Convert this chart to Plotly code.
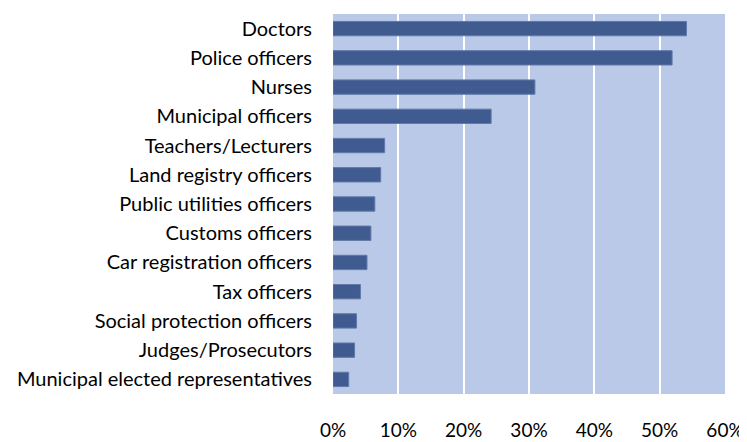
import plotly.graph_objects as go

categories = ["Doctors", "Police officers", "Nurses", "Municipal officers",
              "Teachers/Lecturers", "Land registry officers", "Public utilities officers",
              "Customs officers", "Car registration officers", "Tax officers",
              "Social protection officers", "Judges/Prosecutors",
              "Municipal elected representatives"]
values = [54.1, 51.9, 30.9, 24.2, 7.9, 7.3, 6.4, 5.8, 5.2, 4.2, 3.6, 3.3, 2.4]
tick_vals = [0, 10, 20, 30, 40, 50, 60]
tick_text = ["0%", "10%", "20%", "30%", "40%", "50%", "60%"]

fig = go.Figure(go.Bar(
    x=values, y=categories, orientation="h",
    marker=dict(color="#3F5B8F", line=dict(color="#6079AA", width=1)),
    width=0.49,
))
fig.update_layout(
    width=739, height=434,
    margin=dict(l=325, r=22, t=6, b=48),
    plot_bgcolor="#B9C9E7", paper_bgcolor="white",
    font=dict(family="Lato, Carlito, Calibri, sans-serif", size=20, color="black"),
    showlegend=False,
    bargap=0.51,
)
fig.update_xaxes(range=[0, 60], tickvals=tick_vals, ticktext=tick_text,
                 showgrid=True, gridcolor="white", gridwidth=2, automargin=False,
                 zeroline=False, showline=False, ticks="", ticklabelstandoff=23,
                 tickfont=dict(size=19))
fig.update_yaxes(autorange="reversed", showgrid=False, zeroline=False, automargin=False,
                 showline=False, ticks="", ticklabelstandoff=20)
fig.write_html("out.html")
